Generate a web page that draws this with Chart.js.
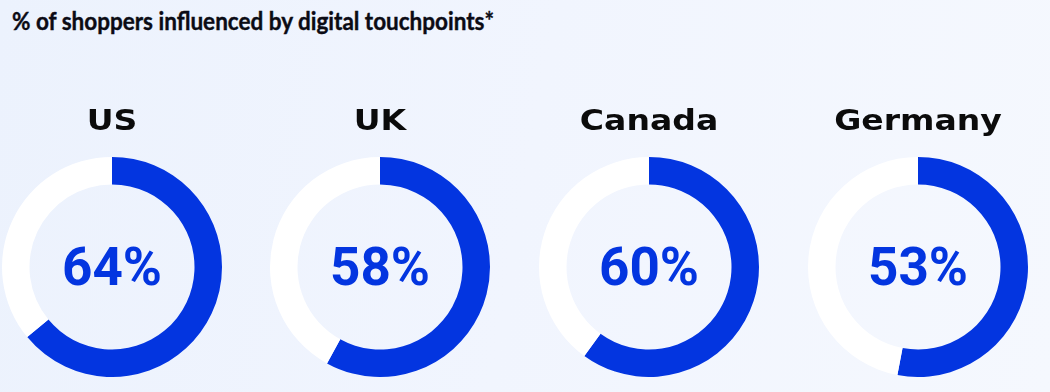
<!DOCTYPE html>
<html>
<head>
<meta charset="utf-8">
<script src="https://cdn.jsdelivr.net/npm/chart.js@4"></script>
<style>
  html, body { margin: 0; padding: 0; }
  body {
    width: 1050px; height: 392px; overflow: hidden; position: relative;
    background: linear-gradient(100deg, #ecf2fd 0%, #f1f5fe 50%, #f5f8fe 100%);
  }
  h1 {
    position: absolute; left: 12px; top: 5px; margin: 0; white-space: nowrap;
    font-family: Lato, sans-serif; font-weight: 700; font-size: 25px;
    color: #0b0b14; transform: scaleX(0.9); transform-origin: left top;
    -webkit-text-stroke: 0.4px #0b0b14;
  }
  .ring { position: absolute; top: 95px; width: 240px; height: 282px; }
</style>
</head>
<body>
<h1>% of shoppers influenced by digital touchpoints*</h1>
<div class="ring" style="left: -8px"><canvas id="c0"></canvas></div>
<div class="ring" style="left: 260px"><canvas id="c1"></canvas></div>
<div class="ring" style="left: 529px"><canvas id="c2"></canvas></div>
<div class="ring" style="left: 798px"><canvas id="c3"></canvas></div>
<script>
const countries = ['US', 'UK', 'Canada', 'Germany'];
const influenced = [64, 58, 60, 53];

const blue = '#0335e0';

// country name above the ring and percentage in its middle
const ringText = {
    id: 'ringText',
    afterDraw(chart, args, opts) {
        const arc = chart.getDatasetMeta(0).data[0];
        if (!arc) return;
        const ctx = chart.ctx;
        ctx.save();
        ctx.textAlign = 'center';
        ctx.textBaseline = 'alphabetic';

        ctx.font = 'bold 53px Roboto, sans-serif';
        ctx.fillStyle = blue;
        ctx.fillText(chart.data.datasets[0].data[0] + '%', arc.x, arc.y + 18);

        ctx.translate(arc.x, arc.y - 137);
        ctx.scale(1.14, 1);
        ctx.font = 'bold 29px "DejaVu Sans", sans-serif';
        ctx.fillStyle = '#0b0b0b';
        ctx.fillText(opts.label, 0, 0);
        ctx.restore();
    }
};

countries.forEach(function (name, i) {
    const ctx = document.getElementById('c' + i);
    new Chart(ctx, {
        type: 'doughnut',
        data: {
            labels: ['Influenced', 'Other'],
            datasets: [{
                data: [influenced[i], 100 - influenced[i]],
                backgroundColor: [blue, '#ffffff'],
                borderWidth: 0,
                hoverOffset: 0
            }]
        },
        options: {
            responsive: true,
            maintainAspectRatio: false,
            animation: false,
            cutout: '75%',
            layout: { padding: { top: 62 } },
            plugins: {
                legend: { display: false },
                tooltip: { enabled: false },
                ringText: { label: name }
            }
        },
        plugins: [ringText]
    });
});
</script>
</body>
</html>
